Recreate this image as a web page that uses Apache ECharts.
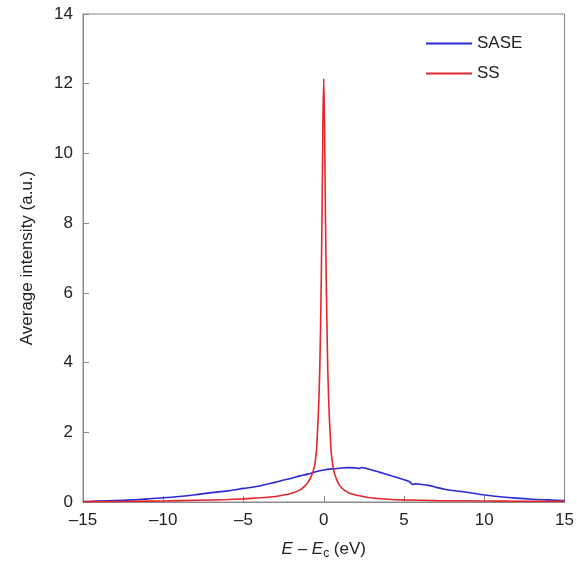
<!DOCTYPE html>
<html>
<head>
<meta charset="utf-8">
<script src="https://cdn.jsdelivr.net/npm/echarts@6/dist/echarts.min.js"></script>
<style>
  html, body { margin: 0; padding: 0; background: #fff; }
  #chart { width: 577px; height: 569px; }
</style>
</head>
<body>
<div id="chart"></div>
<script>
// SASE spectrum
const saseE = [-15, -14, -13, -12, -11, -10, -9, -8, -7, -6, -5, -4, -3, -2.5, -2, -1.5, -1, -0.5, 0, 0.5, 1, 1.5, 2, 2.2, 2.35, 2.6, 3, 3.5, 4, 4.5, 5, 5.35, 5.55, 5.7, 6, 6.6, 7, 7.6, 8, 8.9, 10, 11, 12, 13, 14, 15]
const saseI = [0.01, 0.03, 0.04, 0.06, 0.09, 0.12, 0.16, 0.21, 0.27, 0.32, 0.39, 0.46, 0.57, 0.63, 0.68, 0.75, 0.8, 0.87, 0.92, 0.95, 0.97, 0.985, 0.98, 0.96, 0.99, 0.97, 0.92, 0.85, 0.78, 0.71, 0.64, 0.58, 0.5, 0.52, 0.51, 0.47, 0.42, 0.36, 0.33, 0.28, 0.2, 0.15, 0.11, 0.08, 0.06, 0.04]

// SS spectrum
const ssE = [-15, -12, -10, -8, -6, -5, -4, -3, -2.5, -2, -1.5, -1.2, -1, -0.8, -0.65, -0.55, -0.45, -0.4, -0.35, -0.3, -0.25, -0.2, -0.15, -0.1, -0.05, 0, 0.05, 0.1, 0.15, 0.2, 0.25, 0.3, 0.35, 0.4, 0.45, 0.55, 0.65, 0.8, 1, 1.3, 1.6, 2, 2.9, 4, 5, 7, 10, 12, 15]
const ssI = [0.01, 0.02, 0.03, 0.05, 0.07, 0.09, 0.12, 0.16, 0.2, 0.25, 0.34, 0.45, 0.55, 0.72, 0.9, 1.1, 1.5, 1.95, 2.4, 3.0, 3.8, 5.0, 6.6, 8.6, 11.0, 12.15, 10.8, 8.4, 6.5, 5.0, 3.8, 3.0, 2.4, 1.95, 1.5, 1.1, 0.85, 0.65, 0.47, 0.33, 0.25, 0.2, 0.12, 0.08, 0.06, 0.04, 0.03, 0.02, 0.02]

const xTicks = [-15, 15, 5]
const yTicks = [0, 14, 2]

const font = 'Liberation Sans, Arial, sans-serif'
const axisGray = '#8a8a8a'
const dash = v => String(v).replace('-', '\u2013')

const myChart = echarts.init(document.getElementById('chart'))
myChart.setOption({
  animation: false,
  grid: {
    show: true,
    left: 83,
    right: 12,
    top: 14,
    bottom: 67,
    borderColor: axisGray,
    borderWidth: 1
  },
  legend: {
    orient: 'vertical',
    left: 421,
    top: 30,
    icon: 'rect',
    itemWidth: 46,
    itemHeight: 2,
    itemGap: 13,
    textStyle: { fontFamily: font, fontSize: 17, color: '#222' },
    data: ['SASE', 'SS']
  },
  xAxis: {
    type: 'value',
    min: xTicks[0],
    max: xTicks[1],
    interval: xTicks[2],
    name: '{i|E} \u2013 {i|E}{s|c} (eV)',
    nameLocation: 'middle',
    nameGap: 36,
    nameTextStyle: {
      fontFamily: font,
      fontSize: 17,
      color: '#222',
      rich: {
        i: { fontFamily: font, fontSize: 17, fontStyle: 'italic', color: '#222' },
        s: { fontFamily: font, fontSize: 12, color: '#222', verticalAlign: 'bottom', padding: [10, 0, 0, 0] }
      }
    },
    axisLine: { onZero: false, lineStyle: { color: axisGray } },
    axisTick: { inside: true, length: 6, lineStyle: { color: axisGray } },
    axisLabel: { margin: 10, fontFamily: font, fontSize: 17, color: '#222', formatter: dash },
    splitLine: { show: false }
  },
  yAxis: {
    type: 'value',
    min: yTicks[0],
    max: yTicks[1],
    interval: yTicks[2],
    name: 'Average intensity (a.u.)',
    nameLocation: 'middle',
    nameGap: 47,
    nameTextStyle: { fontFamily: font, fontSize: 17, color: '#222' },
    axisLine: { show: true, onZero: false, lineStyle: { color: axisGray } },
    axisTick: { show: true, inside: true, length: 6, lineStyle: { color: axisGray } },
    axisLabel: { margin: 10, fontFamily: font, fontSize: 17, color: '#222' },
    splitLine: { show: false }
  },
  series: [
    {
      name: 'SASE',
      type: 'line',
      symbol: 'none',
      smooth: 0.3,
      color: '#2a2ad6',
      lineStyle: { width: 1.6, color: '#2a2ad6' },
      data: saseE.map((e, i) => [e, saseI[i]])
    },
    {
      name: 'SS',
      type: 'line',
      symbol: 'none',
      smooth: 0.2,
      color: '#e2262c',
      lineStyle: { width: 1.6, color: '#e2262c' },
      data: ssE.map((e, i) => [e, ssI[i]])
    }
  ]
})
</script>
</body>
</html>
